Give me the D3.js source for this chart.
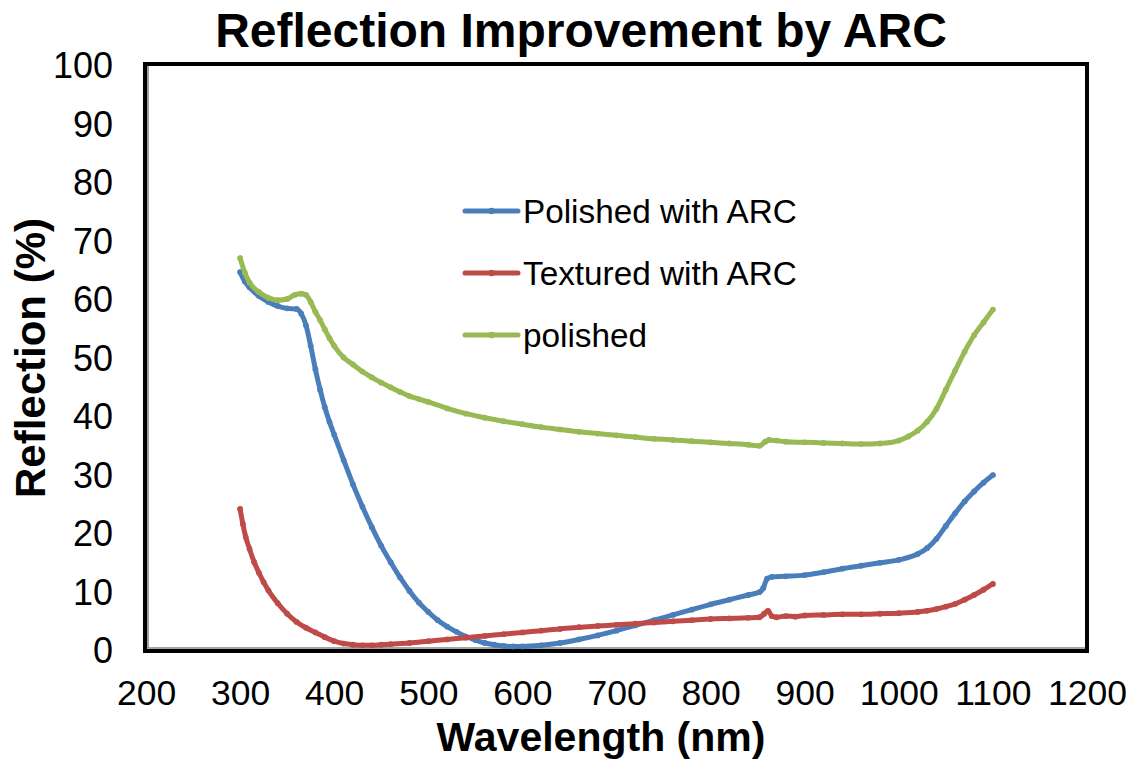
<!DOCTYPE html>
<html>
<head>
<meta charset="utf-8">
<script src="https://cdn.jsdelivr.net/npm/d3@7/dist/d3.min.js"></script>
<style>
  html, body { margin: 0; padding: 0; background: #fff; }
  svg { display: block; font-family: "Liberation Sans", Arial, sans-serif; }
</style>
</head>
<body>
<svg id="chart" width="1131" height="760"></svg>
<script>
// Wavelength (nm) / reflection (%) samples for each sample type
const polishedArcWl = [300,305,310,320,330,340,350,360,365,370,375,380,385,390,395,400,410,420,430,440,450,460,470,480,490,500,510,520,530,540,550,560,570,580,590,600,620,640,660,680,700,720,740,760,780,800,820,840,852,856,860,865,880,900,920,940,960,980,1000,1020,1030,1040,1050,1060,1070,1080,1090,1100];
const polishedArcR  = [64.6,63.0,62.0,60.5,59.5,58.8,58.4,58.3,57.5,55.5,52.0,48.0,44.5,41.5,39.0,36.8,32.5,28.3,24.5,21.0,17.8,15.0,12.4,10.1,8.1,6.5,5.1,4.0,3.1,2.3,1.7,1.2,0.9,0.7,0.6,0.6,0.8,1.2,1.8,2.5,3.3,4.2,5.1,6.0,6.9,7.8,8.6,9.4,9.9,10.6,12.2,12.5,12.6,12.8,13.3,13.9,14.4,14.9,15.4,16.4,17.4,19.0,21.2,23.4,25.4,27.1,28.6,29.9];

const texturedArcWl = [300,303,306,310,315,320,325,330,340,350,360,370,380,390,400,410,420,430,440,450,460,480,500,520,540,560,580,600,620,640,660,680,700,720,740,760,780,800,820,840,852,857,861,865,870,880,890,900,920,940,960,980,1000,1020,1030,1040,1050,1060,1070,1080,1090,1100];
const texturedArcR  = [24.1,21.5,19.3,17.3,15.0,13.2,11.6,10.2,8.0,6.2,4.8,3.8,3.0,2.2,1.5,1.1,0.9,0.8,0.8,0.9,1.0,1.2,1.5,1.8,2.1,2.4,2.7,3.0,3.3,3.6,3.9,4.1,4.3,4.5,4.7,4.9,5.1,5.3,5.4,5.5,5.6,6.2,6.7,5.8,5.6,5.8,5.7,5.9,6.0,6.1,6.1,6.2,6.3,6.5,6.7,7.0,7.4,7.9,8.6,9.4,10.3,11.3];

const polishedWl = [300,305,310,320,330,340,350,358,365,370,375,380,385,390,395,400,410,420,430,440,450,460,470,480,490,500,520,540,560,580,600,620,640,660,680,700,720,740,760,780,800,820,840,852,858,862,870,880,900,920,940,960,980,1000,1010,1020,1030,1040,1050,1060,1070,1080,1090,1100];
const polishedR  = [67.0,64.5,62.8,61.2,60.2,59.8,60.0,60.7,60.9,60.7,59.5,57.8,56.4,54.8,53.3,52.0,50.0,48.8,47.6,46.6,45.7,44.9,44.1,43.4,42.9,42.4,41.3,40.4,39.7,39.1,38.6,38.1,37.7,37.3,37.0,36.7,36.4,36.1,35.9,35.7,35.5,35.3,35.1,34.9,35.6,35.9,35.8,35.6,35.5,35.4,35.3,35.2,35.3,35.8,36.5,37.5,39.0,41.2,44.5,47.8,51.0,53.8,56.0,58.2];

const seriesNames  = ["Polished with ARC", "Textured with ARC", "polished"];
const seriesColors = ["#4A7EBB", "#BE4B48", "#98B954"];
const xTicks = [200,300,400,500,600,700,800,900,1000,1100,1200];
const yTicks = [0,10,20,30,40,50,60,70,80,90,100];

const chartTitle = "Reflection Improvement by ARC";
const xTitle = "Wavelength (nm)";
const yTitle = "Reflection (%)";

const series = [
  { name: seriesNames[0], color: seriesColors[0], pts: polishedArcWl.map((w, i) => [w, polishedArcR[i]]) },
  { name: seriesNames[1], color: seriesColors[1], pts: texturedArcWl.map((w, i) => [w, texturedArcR[i]]) },
  { name: seriesNames[2], color: seriesColors[2], pts: polishedWl.map((w, i) => [w, polishedR[i]]) }
];

const svg = d3.select("#chart");
const plot = { left: 146, right: 1087, top: 65, bottom: 650 };

const x = d3.scaleLinear().domain([200, 1200]).range([plot.left, plot.right]);
const y = d3.scaleLinear().domain([0, 100]).range([plot.bottom, plot.top]);

// Plot frame: heavy black border with a grey inner edge on the left and bottom
svg.append("rect")
  .attr("x", plot.left - 1).attr("y", plot.top - 1)
  .attr("width", plot.right - plot.left + 1).attr("height", plot.bottom - plot.top + 2)
  .attr("fill", "none").attr("stroke", "#000").attr("stroke-width", 4);
svg.append("path")
  .attr("d", `M${plot.left + 2},${plot.top + 1}V${plot.bottom - 2}H${plot.right - 2}`)
  .attr("fill", "none").attr("stroke", "#888").attr("stroke-width", 1.6);

// Axes (labels only, no tick marks)
const xAxis = d3.axisBottom(x).tickValues(xTicks).tickSize(0).tickPadding(0).tickFormat(d3.format("d"));
const gx = svg.append("g").attr("transform", `translate(0,${plot.bottom})`).call(xAxis);
gx.select(".domain").remove();
gx.selectAll("text")
  .attr("y", 55).attr("dy", null)
  .attr("font-size", 35.5).attr("fill", "#000")
  .attr("font-family", "Liberation Sans, Arial, sans-serif");

const yAxis = d3.axisLeft(y).tickValues(yTicks).tickSize(0).tickPadding(0).tickFormat(d3.format("d"));
const gy = svg.append("g").attr("transform", `translate(${plot.left},0)`).call(yAxis);
gy.select(".domain").remove();
gy.selectAll("text")
  .attr("x", -33).attr("dy", "0.36em")
  .attr("font-size", 36).attr("fill", "#000")
  .attr("font-family", "Liberation Sans, Arial, sans-serif");

// Data lines
const line = d3.line()
  .x(d => x(d[0])).y(d => y(d[1]))
  .curve(d3.curveMonotoneX);

const gLines = svg.append("g");
series.forEach(s => {
  gLines.append("path")
    .datum(s.pts)
    .attr("d", line)
    .attr("fill", "none")
    .attr("stroke", s.color)
    .attr("stroke-width", 5)
    .attr("stroke-linejoin", "round")
    .attr("stroke-linecap", "round");
  gLines.selectAll(null)
    .data(s.pts)
    .enter().append("circle")
    .attr("cx", d => x(d[0])).attr("cy", d => y(d[1]))
    .attr("r", 2.9)
    .attr("fill", s.color);
});

// Legend
const legend = svg.append("g").attr("transform", "translate(465,211)");
series.forEach((s, i) => {
  const row = legend.append("g").attr("transform", `translate(0,${i * 62})`);
  row.append("line")
    .attr("x1", 0).attr("x2", 53).attr("y1", 0).attr("y2", 0)
    .attr("stroke", s.color).attr("stroke-width", 5).attr("stroke-linecap", "round");
  row.append("circle").attr("cx", 26.5).attr("cy", 0).attr("r", 3.2).attr("fill", s.color);
  row.append("text")
    .attr("x", 58).attr("y", 12)
    .attr("font-size", 33.3).attr("fill", "#000")
    .text(s.name);
});

// Titles
svg.append("text")
  .attr("x", 581).attr("y", 47)
  .attr("text-anchor", "middle")
  .attr("font-size", 48).attr("font-weight", "bold")
  .text(chartTitle);

svg.append("text")
  .attr("x", 601).attr("y", 751)
  .attr("text-anchor", "middle")
  .attr("font-size", 41).attr("font-weight", "bold")
  .text(xTitle);

svg.append("text")
  .attr("transform", "translate(45,358) rotate(-90)")
  .attr("text-anchor", "middle")
  .attr("font-size", 42).attr("font-weight", "bold")
  .text(yTitle);
</script>
</body>
</html>
